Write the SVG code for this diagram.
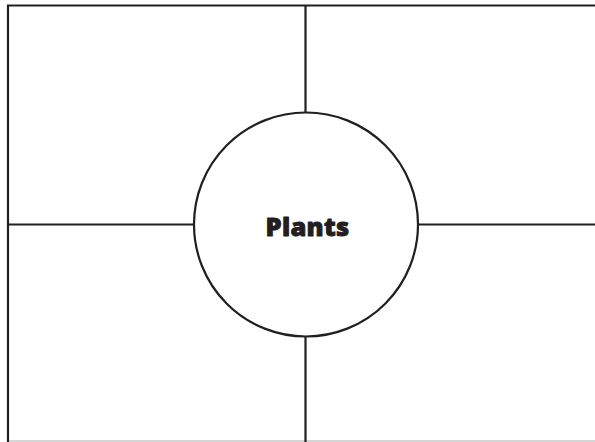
<svg xmlns="http://www.w3.org/2000/svg" width="595" height="442" viewBox="0 0 595 442">
<style>
.ln{stroke:#231f20;stroke-width:2.2;fill:none}
.lbl{font-family:"Open Sans","Liberation Sans",sans-serif;font-weight:800;font-size:25.5px;fill:#231f20;stroke:#231f20;stroke-width:0.9;stroke-linejoin:round}
</style>
<rect width="595" height="442" fill="#fff"/>
<g id="frame">
<path class="ln" d="M8,442 V5.5 H595"/>
<line x1="9" y1="441" x2="595" y2="441" stroke="#c8c8c8" stroke-width="1.5"/>
</g>
<g id="connectors">
<line class="ln" x1="305.5" y1="5" x2="305.5" y2="112.5"/>
<line class="ln" x1="305.5" y1="336.5" x2="305.5" y2="442"/>
<line class="ln" x1="8" y1="224.5" x2="194" y2="224.5"/>
<line class="ln" x1="418" y1="224.5" x2="595" y2="224.5"/>
</g>
<g id="plants">
<circle class="ln" cx="306" cy="224.5" r="112"/>
<text class="lbl" x="307.5" y="235.5" text-anchor="middle" letter-spacing="0.3">Plants</text>
</g>
</svg>
